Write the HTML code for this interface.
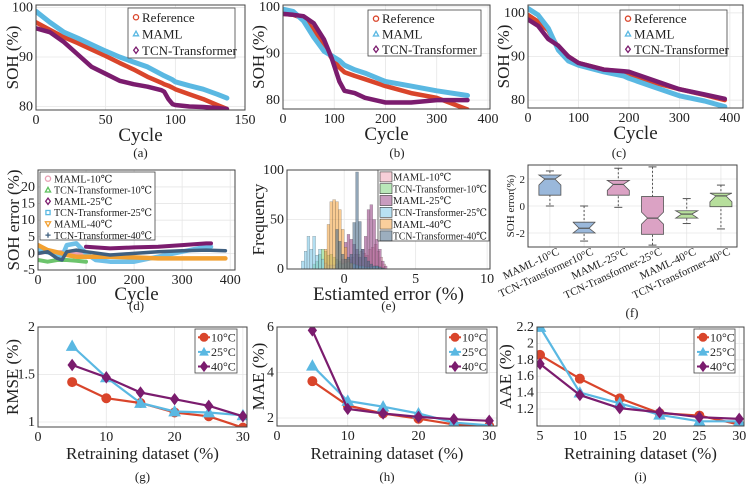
<!DOCTYPE html>
<html><head><meta charset="utf-8"><style>
html,body{margin:0;padding:0;background:#fff;}
svg, svg text{font-family:"Liberation Serif","Times New Roman",Times,"DejaVu Serif",serif;}
</style></head><body>
<svg id="fig" width="747" height="484" viewBox="0 0 747 484"></svg>
<script>
// ---------- DATA ----------
const aCycles=[0,10,20,30,40,50,60,70,80,90,92,95,98,100,110,120,130,137];
const aRef=[97,95.5,94,92.8,91.5,90.2,88.8,87.5,86,84.8,84.5,84.2,83.8,83.5,82.5,81.5,80.3,79.5];
const aMaml=[99.2,97,95,93.8,92.5,91.2,90,89,88,86.5,86.2,85.8,85.4,85,84.2,83.5,82.5,81.7];
const aTcn=[95.8,95,93,90.5,88,86.6,85.2,84.5,84,83.3,83,81.5,80.5,80.3,80,79.9,79.7,79.5];
const bCycles=[0,20,40,60,80,95,110,120,140,160,200,250,300,360];
const bRef=[98.5,98.3,97.5,95,91.5,89,87,86,85.2,84.5,83,81.5,80.5,78];
const bMaml=[99.5,99,97,93.5,90.5,89.5,88.5,87.5,86.5,85.8,84,83,82,81];
const bTcn=[98.5,98.3,98,96.5,93,89,84,82,81.5,80.5,79.5,79.5,80,80];
const cCycles=[0,20,40,60,80,100,150,190,200,250,300,350,390];
const cRef=[99.5,98,96,92,90,88.5,87,86.5,86,84,82.5,81.2,80];
const cMaml=[101,99.5,96.5,91.5,89,88,86.5,85.5,85,83,81,79.8,78.5];
const cTcn=[98.5,97,94,92.5,90,88.5,87,86.6,86.5,84.5,82.5,81.3,80.3];
const dX1=[0,20,40,60,80,100];
const dTcn10=[-2,-2.5,-2,-2,-2.2,-2.5];
const dMaml10=[0,0.5,0.3,0.5,0.2,0];
const dX2=[100,150,200,250,300,350,360];
const dMaml25=[2,1.5,1.8,2,2.5,3,3];
const dX3=[0,30,50,60,80,100,120,150,200,250,300,350,360];
const dTcn25=[1,0,-1,2.5,3,0,-2,-2.5,-2.5,-1,0.5,2,2];
const dX4=[0,20,50,60,80,100,150,200,250,300,350,390];
const dMaml40=[2.5,1,0,-0.5,-1,-1,-1,-1.2,-1.5,-1.5,-1.5,-1.5];
const dX5=[0,20,40,50,60,80,100,150,200,250,300,350,390];
const dTcn40=[0,0.5,-1.5,-2,0.5,1,0.5,-0.5,0,0.5,0.8,1,0.8];
const eBin=0.2;
const eTcn25Start=-3.0, eTcn25=[8,18,33,20,33,14,20,10,6,4,4,4,5,6,5,6,7,6,5,4,3,3,2,2,2,3,3,2,1];
const eTcn10Start=-2.2, eTcn10=[5,8,15,20,18,14,15,12,10,8,6,4];
const eMaml10Start=-0.1, eMaml10=[5,8,10,12,15,15,18,16,14,20,22,25,18,12,5];
const eMaml25Start=-0.2, eMaml25=[10,27,35,30,25,20,12,20,33,60,65,50,30,20,8,3];
const eMaml40Start=-1.4, eMaml40=[20,45,68,70,68,60,40,22,10,6];
const eTcn40Start=-0.6, eTcn40=[40,28,15,10,12,15,47,98,48,20,12,8,5,3,3,2,1];
const fLabels=["MAML-10°C","TCN-Transformer10°C","MAML-25°C","TCN-Transformer-25°C","MAML-40°C","TCN-Transformer-40°C"];
const fWLo=[0,-2.6,-0.1,-2.9,-1.3,-1.7];
const fQ1=[0.8,-2.0,0.8,-2.1,-0.9,-0.05];
const fMed=[2.0,-1.65,1.6,-0.9,-0.6,0.75];
const fQ3=[2.3,-1.2,1.9,0.7,-0.35,0.95];
const fWHi=[2.6,0,2.8,2.9,0.55,1.55];
const ghiX=[5,10,15,20,25,30];
const gRmse10=[1.42,1.25,1.2,1.1,1.06,0.94];
const gRmse25=[1.8,1.47,1.2,1.11,1.1,1.07];
const gRmse40=[1.6,1.47,1.31,1.24,1.17,1.06];
const hMae10=[3.62,2.55,2.2,1.97,1.72,1.65];
const hMae25=[4.3,2.75,2.5,2.2,1.8,1.68];
const hMae40=[5.85,2.4,2.2,2.05,1.95,1.88];
const iAae10=[1.86,1.57,1.33,1.15,1.12,1.01];
const iAae25=[2.2,1.4,1.27,1.13,1.05,1.05];
const iAae40=[1.75,1.37,1.21,1.16,1.1,1.08];

// ---------- HELPERS ----------
const NS="http://www.w3.org/2000/svg";
const svg=document.getElementById('fig');
const RED="#d9452b",BLUE="#5ab8e2",PURP="#7b1c6e";
const FONT="Liberation Serif, Times New Roman, Times, DejaVu Serif, serif";
function mk(tag,name,attrs,parent){
  const e=document.createElementNS(NS,tag);
  
  
  for(const k in attrs) e.setAttribute(k,attrs[k]);
  (parent||svg).appendChild(e);
  return e;
}
function txt(name,s,x,y,size,anchor,parent,extra){
  const t=mk('text',name,Object.assign({x:x,y:y,'font-size':size,'text-anchor':anchor||'middle',fill:'#222','font-family':FONT},extra||{}),parent);
  t.textContent=s;return t;
}
function axes(id,box,xd,yd,xt,yt,xl,yl,lab,opt){
  opt=opt||{};
  const [L,T,R,B]=box;
  const g=mk('g',id,{});
  const x=v=>L+(v-xd[0])/(xd[1]-xd[0])*(R-L);
  const y=v=>B-(v-yd[0])/(yd[1]-yd[0])*(B-T);
  mk('rect',id+'-plot-area',{x:L,y:T,width:R-L,height:B-T,fill:'#fff'},g);
  xt.forEach(v=>{mk('line',id+'-x-grid',{x1:x(v),x2:x(v),y1:T,y2:B,stroke:'#e6e6e6','stroke-width':0.8},g);});
  yt.forEach(v=>{mk('line',id+'-y-grid',{x1:L,x2:R,y1:y(v),y2:y(v),stroke:'#e6e6e6','stroke-width':0.8},g);});
  if(!opt.noXTick) xt.forEach(v=>txt(id+'-x-tick-label',String(v),x(v),B+14,opt.xSize||14,'middle',g));
  yt.forEach(v=>txt(id+'-y-tick-label',String(v),L-3,y(v)+4,opt.ySize||14,'end',g));
  if(xl) txt(id+'-x-axis-title',xl,(L+R)/2,opt.xlY||B+31,opt.xlSize||19,'middle',g);
  if(yl){const cx=opt.ylX||L-24,cy=(T+B)/2;txt(id+'-y-axis-title',yl,cx,cy,opt.ylSize||17,'middle',g,{transform:`rotate(-90 ${cx} ${cy})`,dy:'0.35em'});}
  txt(id+'-panel-label',lab,opt.labX||(L+R)/2,opt.labY||B+48,13,'middle',g);
  const plot=mk('g',id+'-series-layer',{},g);
  const cid='clip-'+id;
  const cp=mk('clipPath',id+'-clip',{id:cid},g);
  mk('rect',id+'-clip-rect',{x:L,y:T,width:R-L,height:B-T},cp);
  plot.setAttribute('clip-path',`url(#${cid})`);
  return {x,y,g,plot,finish(){mk('rect',id+'-frame',{x:L,y:T,width:R-L,height:B-T,fill:'none',stroke:'#444','stroke-width':1},g);}};
}
function line(ax,name,xs,ys,color,w,op){
  const pts=xs.map((v,i)=>ax.x(v).toFixed(1)+','+ax.y(ys[i]).toFixed(1)).join(' ');
  return mk('polyline',name,{points:pts,fill:'none',stroke:color,'stroke-width':w,'stroke-linejoin':'round','stroke-linecap':'round',opacity:op||1},ax.plot);
}
function marker(parent,name,kind,cx,cy,s,fill,stroke,sw){
  let e;
  if(kind==='o') e=mk('circle',name,{cx:cx,cy:cy,r:s},parent);
  else if(kind==='^') e=mk('polygon',name,{points:`${cx},${cy-s} ${cx-s},${cy+s*0.8} ${cx+s},${cy+s*0.8}`},parent);
  else if(kind==='v') e=mk('polygon',name,{points:`${cx},${cy+s} ${cx-s},${cy-s*0.8} ${cx+s},${cy-s*0.8}`},parent);
  else if(kind==='d') e=mk('polygon',name,{points:`${cx},${cy-s*1.2} ${cx-s*0.9},${cy} ${cx},${cy+s*1.2} ${cx+s*0.9},${cy}`},parent);
  else if(kind==='s') e=mk('rect',name,{x:cx-s*0.8,y:cy-s*0.8,width:s*1.6,height:s*1.6},parent);
  else {e=mk('path',name,{d:`M${cx-s},${cy}H${cx+s}M${cx},${cy-s}V${cy+s}`},parent);}
  e.setAttribute('fill',fill);e.setAttribute('stroke',stroke);e.setAttribute('stroke-width',sw||1);
  return e;
}
function legend(ax,name,box,items,size,rowH,mode){
  const [x0,y0,x1,y1]=box;
  const g=mk('g',name,{},ax.g);
  mk('rect',name+'-box',{x:x0,y:y0,width:x1-x0,height:y1-y0,fill:'#fff',stroke:'#444','stroke-width':0.8},g);
  items.forEach((it,i)=>{
    const cy=y0+rowH*(i+0.5)+1;
    const eg=mk('g','legend-entry',{},g);
    if(mode==='patch') mk('rect','legend-swatch',{x:x0+2,y:cy-5,width:12,height:10,fill:it.c,'fill-opacity':0.55,stroke:'#333','stroke-width':0.6},eg);
    else if(mode==='line'){mk('line','legend-line',{x1:x0+3,x2:x0+15,y1:cy,y2:cy,stroke:it.c,'stroke-width':2},eg);marker(eg,'legend-marker',it.m,x0+9,cy,4,it.c,it.c,1);}
    else marker(eg,'legend-marker',it.m,x0+8,cy,2.6,'none',it.c,1.3);
    const ex=it.w?{textLength:it.w,lengthAdjust:'spacingAndGlyphs'}:{};
    txt('legend-label',it.t,x0+(mode==='line'?16:mode==='patch'?15:14),cy+size*0.35,size,'start',eg,ex);
  });
}

// ---------- (a) ----------
{
const ax=axes('panel-a',[36,5,245,110],[0,150],[79.3,100.5],[0,50,100,150],[80,90,100],'Cycle','SOH (%)','(a)',{ylX:12,labY:157});
line(ax,'a-reference-line',aCycles,aRef,RED,4.5);
line(ax,'a-maml-line',aCycles,aMaml,BLUE,5);
line(ax,'a-tcn-transformer-line',aCycles,aTcn,PURP,4.5);
ax.finish();
legend(ax,'a-legend',[128,8,235,58],[{t:'Reference',c:RED,m:'o'},{t:'MAML',c:BLUE,m:'^'},{t:'TCN-Transformer',c:PURP,m:'d'}],13,16.5,'mk');
}
// ---------- (b) ----------
{
const ax=axes('panel-b',[283,5,490,109],[0,404],[78.1,100.4],[0,100,200,300,400],[80,90,100],'Cycle','SOH (%)','(b)',{ylX:258,labX:397,labY:157});
line(ax,'b-reference-line',bCycles,bRef,RED,4.5);
line(ax,'b-maml-line',bCycles,bMaml,BLUE,5);
line(ax,'b-tcn-transformer-line',bCycles,bTcn,PURP,4.5);
ax.finish();
legend(ax,'b-legend',[368,10,481,56],[{t:'Reference',c:RED,m:'o'},{t:'MAML',c:BLUE,m:'^'},{t:'TCN-Transformer',c:PURP,m:'d'}],13,15.3,'mk');
}
// ---------- (c) ----------
{
const ax=axes('panel-c',[528,5,743,108],[0,426],[78.2,101.8],[0,100,200,300,400],[80,90,100],'Cycle','SOH (%)','(c)',{ylX:503,labX:619,labY:157});
line(ax,'c-reference-line',cCycles,cRef,RED,4.5);
line(ax,'c-maml-line',cCycles,cMaml,BLUE,5);
line(ax,'c-tcn-transformer-line',cCycles,cTcn,PURP,4.5);
ax.finish();
legend(ax,'c-legend',[620,10,727,56],[{t:'Reference',c:RED,m:'o'},{t:'MAML',c:BLUE,m:'^'},{t:'TCN-Transformer',c:PURP,m:'d'}],13,15.3,'mk');
}
// ---------- (d) ----------
{
const ax=axes('panel-d',[38,170,235,270],[0,410],[-5,25.1],[0,100,200,300,400],[-5,0,5,10,15,20],'Cycle','SOH error (%)','(d)',{ylX:13,labY:310,xlY:300});
line(ax,'d-maml-10c-line',dX1,dMaml10,'#e8a0b4',4);
line(ax,'d-tcn-10c-line',dX1,dTcn10,'#6cc46c',4);
line(ax,'d-tcn-25c-line',dX3,dTcn25,'#6fc0e8',4.5);
line(ax,'d-maml-25c-line',dX2,dMaml25,PURP,4);
line(ax,'d-maml-40c-line',dX4,dMaml40,'#f2a030',4.5);
line(ax,'d-tcn-40c-line',dX5,dTcn40,'#3f6080',3.5);
ax.finish();
legend(ax,'d-legend',[40,172,155,240],[{t:'MAML-10℃',c:'#e8a0b4',m:'o'},{t:'TCN-Transformer-10℃',c:'#5cc05c',m:'^',w:98},{t:'MAML-25℃',c:PURP,m:'d'},{t:'TCN-Transformer-25℃',c:'#5ab8e2',m:'s',w:98},{t:'MAML-40℃',c:'#f2a030',m:'v'},{t:'TCN-Transformer-40℃',c:'#3f6080',m:'+',w:98}],10.5,11.3,'mk');
}
// ---------- (e) ----------
{
const ax=axes('panel-e',[287,170,490,269],[-4,10.2],[0,100],[0,5,10],[0,50,100],'Estiamted error (%)','Frequency','(e)',{ylX:258,labY:310,xlY:300});
function hist(name,start,counts,color){
  counts.forEach((c,i)=>{
    const x0=ax.x(start+i*eBin),x1=ax.x(start+(i+1)*eBin);
    mk('rect',name,{x:x0,y:ax.y(c),width:x1-x0,height:ax.y(0)-ax.y(c),fill:color,'fill-opacity':0.6,stroke:'#333','stroke-width':0.3,'stroke-opacity':0.6},ax.plot);
  });
}
hist('e-maml-10c-bar',eMaml10Start,eMaml10,'#f0a8b8');
hist('e-tcn-10c-bar',eTcn10Start,eTcn10,'#7fd67f');
hist('e-maml-25c-bar',eMaml25Start,eMaml25,'#9b4a8a');
hist('e-tcn-25c-bar',eTcn25Start,eTcn25,'#7ec8e8');
hist('e-maml-40c-bar',eMaml40Start,eMaml40,'#f5a84a');
hist('e-tcn-40c-bar',eTcn40Start,eTcn40,'#4a6b88');
ax.finish();
legend(ax,'e-legend',[378,170,489,241],[{t:'MAML-10℃',c:'#f0a8b8'},{t:'TCN-Transformer-10℃',c:'#7fd67f',w:94},{t:'MAML-25℃',c:'#9b4a8a'},{t:'TCN-Transformer-25℃',c:'#7ec8e8',w:94},{t:'MAML-40℃',c:'#f5a84a'},{t:'TCN-Transformer-40℃',c:'#4a6b88',w:94}],10.5,11.8,'patch');
}
// ---------- (f) ----------
{
const ax=axes('panel-f',[528,165,737,247],[0.36,6.47],[-3.04,3.04],[1,2,3,4,5,6],[-2,0,2],null,'SOH error(%)','(f)',{noXTick:true,ylX:510,ylSize:11,ySize:11,labX:632,labY:317});
const cols=['#9ab8db','#9ab8db','#dba2c4','#dba2c4','#b7df9c','#b7df9c'];
fLabels.forEach((lab,i)=>{
  const cx=ax.x(i+1),w=11,n=5;
  const g=mk('g','f-box-'+(i+1),{},ax.plot);
  mk('line','f-whisker',{x1:cx,x2:cx,y1:ax.y(fWHi[i]),y2:ax.y(fWLo[i]),stroke:'#555','stroke-dasharray':'2,2','stroke-width':1},g);
  mk('line','f-whisker-cap',{x1:cx-4,x2:cx+4,y1:ax.y(fWHi[i]),y2:ax.y(fWHi[i]),stroke:'#555'},g);
  mk('line','f-whisker-cap',{x1:cx-4,x2:cx+4,y1:ax.y(fWLo[i]),y2:ax.y(fWLo[i]),stroke:'#555'},g);
  const q1=ax.y(fQ1[i]),q3=ax.y(fQ3[i]),m=ax.y(fMed[i]);
  const nt=Math.max(q3,m-6),nb=Math.min(q1,m+6);
  mk('polygon','f-box',{points:`${cx-w},${q3} ${cx+w},${q3} ${cx+w},${nt} ${cx+n},${m} ${cx+w},${nb} ${cx+w},${q1} ${cx-w},${q1} ${cx-w},${nb} ${cx-n},${m} ${cx-w},${nt}`,fill:cols[i],stroke:'#555','stroke-width':0.8},g);
  mk('line','f-median',{x1:cx-n,x2:cx+n,y1:m,y2:m,stroke:'#555','stroke-width':1.2},g);
  txt('f-category-label',lab,cx+10,254,11,'end',ax.g,{transform:`rotate(-25 ${cx+10} 254)`});
});
ax.finish();
}
// ---------- (g)(h)(i) ----------
function lines3(ax,p,s10,s25,s40){
  [[s10,RED,'o','10'],[s25,BLUE,'^','25'],[s40,PURP,'d','40']].forEach(([s,c,m,t])=>{
    line(ax,p+'-'+t+'c-line',ghiX,s,c,2.2);
    ghiX.forEach((v,i)=>marker(ax.plot,p+'-'+t+'c-point',m,ax.x(v),ax.y(s[i]),m==='^'?5.5:4.5,c,c,1));
  });
  ax.finish();
}
const legItems=[{t:'10°C',c:RED,m:'o'},{t:'25°C',c:BLUE,m:'^'},{t:'40°C',c:PURP,m:'d'}];
{
const ax=axes('panel-g',[38,327,247,427],[0,30.6],[0.947,2],[0,10,20,30],[1,1.5,2],'Retraining dataset (%)','RMSE (%)','(g)',{ylX:12,xlY:459,xlSize:17,labY:481});
lines3(ax,'g',gRmse10,gRmse25,gRmse40);
legend(ax,'g-legend',[195,329,237,373],legItems,12,14.6,'line');
}
{
const ax=axes('panel-h',[277,327,497,426],[0,31.1],[1.65,6],[0,10,20,30],[2,4,6],'Retraining dataset (%)','MAE (%)','(h)',{ylX:258,xlY:459,xlSize:17,labY:481});
lines3(ax,'h',hMae10,hMae25,hMae40);
legend(ax,'h-legend',[446,329,487,373],legItems,12,14.6,'line');
}
{
const ax=axes('panel-i',[537,327,744,426],[4.62,30.6],[0.993,2.2],[5,10,15,20,25,30],[1.2,1.4,1.6,1.8,2,2.2],'Retraining dataset (%)','AAE (%)','(i)',{ylX:505,xlY:459,xlSize:17,labY:481});
lines3(ax,'i',iAae10,iAae25,iAae40);
legend(ax,'i-legend',[694,329,735,373],legItems,12,14.6,'line');
}
</script>
</body></html>
